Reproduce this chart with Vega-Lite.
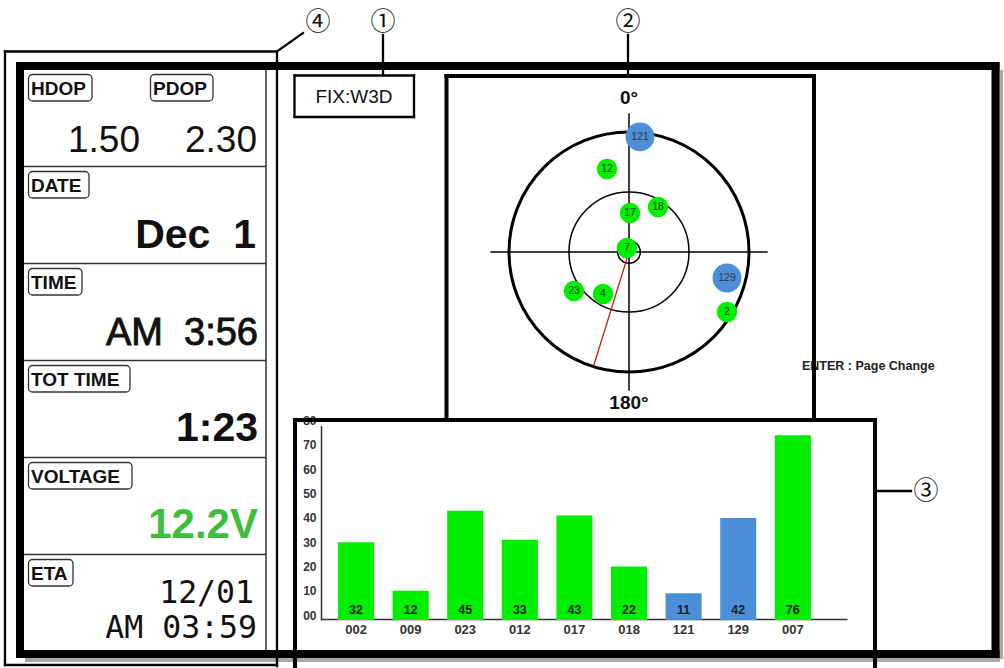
{
  "$schema": "https://vega.github.io/schema/vega-lite/v6.json",
  "width": 1004,
  "height": 668,
  "autosize": {"type": "fit", "contains": "padding"},
  "padding": 0,
  "background": "white",
  "config": {"view": {"stroke": null}, "font": "Liberation Sans"},
  "datasets": {
    "bars": [
      {"prn": "002", "snr": 32, "system": "GPS"},
      {"prn": "009", "snr": 12, "system": "GPS"},
      {"prn": "023", "snr": 45, "system": "GPS"},
      {"prn": "012", "snr": 33, "system": "GPS"},
      {"prn": "017", "snr": 43, "system": "GPS"},
      {"prn": "018", "snr": 22, "system": "GPS"},
      {"prn": "121", "snr": 11, "system": "SBAS"},
      {"prn": "129", "snr": 42, "system": "SBAS"},
      {"prn": "007", "snr": 76, "system": "GPS"}
    ],
    "rings": [
      {"ring": "horizon", "zenith": 90, "east": 0, "north": 0},
      {"ring": "45", "zenith": 45, "east": 0, "north": 0},
      {"ring": "center", "zenith": 8.5, "east": 0, "north": 0}
    ],
    "cross": [
      {"e1": -104, "n1": 0, "e2": 104, "n2": 0},
      {"e1": 0, "n1": 104, "e2": 0, "n2": -104}
    ],
    "heading": [{"e1": 0, "n1": 0, "e2": -26.3, "n2": -84.8}],
    "sats": [
      {"prn": "121", "system": "SBAS", "east": 8.25, "north": 86.3},
      {"prn": "12", "system": "GPS", "east": -16.5, "north": 62.3},
      {"prn": "17", "system": "GPS", "east": 0.75, "north": 29.3},
      {"prn": "18", "system": "GPS", "east": 21.75, "north": 33.75},
      {"prn": "7", "system": "GPS", "east": -1.5, "north": 3},
      {"prn": "23", "system": "GPS", "east": -41.25, "north": -29.25},
      {"prn": "4", "system": "GPS", "east": -19.5, "north": -31.5},
      {"prn": "129", "system": "SBAS", "east": 73.5, "north": -19.5},
      {"prn": "2", "system": "GPS", "east": 73.5, "north": -45}
    ],
    "skylabels": [
      {"text": "0°", "east": 0, "north": 115.5},
      {"text": "180°", "east": 0, "north": -113.3}
    ],
    "segs": [
      {"kind": "shadow", "x1": 1000.5, "y1": 70, "x2": 1000.5, "y2": 659},
      {"kind": "shadow", "x1": 25, "y1": 659.5, "x2": 1000, "y2": 659.5},
      {"kind": "frame", "x1": 20, "y1": 66, "x2": 995.5, "y2": 66},
      {"kind": "frame", "x1": 20, "y1": 654, "x2": 995.5, "y2": 654},
      {"kind": "frame", "x1": 20, "y1": 66, "x2": 20, "y2": 654},
      {"kind": "frame", "x1": 995.5, "y1": 66, "x2": 995.5, "y2": 654},
      {"kind": "box", "x1": 446.5, "y1": 76, "x2": 814, "y2": 76},
      {"kind": "box", "x1": 446.5, "y1": 76, "x2": 446.5, "y2": 419},
      {"kind": "box", "x1": 814, "y1": 76, "x2": 814, "y2": 419},
      {"kind": "box", "x1": 295, "y1": 420, "x2": 875, "y2": 420},
      {"kind": "box", "x1": 295, "y1": 420, "x2": 295, "y2": 666},
      {"kind": "box", "x1": 875, "y1": 420, "x2": 875, "y2": 666},
      {"kind": "thin", "x1": 5, "y1": 51.5, "x2": 277, "y2": 51.5},
      {"kind": "thin", "x1": 5, "y1": 51.5, "x2": 5, "y2": 665},
      {"kind": "thin", "x1": 5, "y1": 665, "x2": 277, "y2": 665},
      {"kind": "thin", "x1": 277, "y1": 51.5, "x2": 277, "y2": 666},
      {"kind": "thin", "x1": 294.5, "y1": 75.5, "x2": 414, "y2": 75.5},
      {"kind": "thin", "x1": 294.5, "y1": 117, "x2": 414, "y2": 117},
      {"kind": "thin", "x1": 294.5, "y1": 75.5, "x2": 294.5, "y2": 117},
      {"kind": "thin", "x1": 414, "y1": 75.5, "x2": 414, "y2": 117},
      {"kind": "thin", "x1": 383, "y1": 35, "x2": 383, "y2": 75},
      {"kind": "thin", "x1": 628, "y1": 35, "x2": 628, "y2": 74},
      {"kind": "thin", "x1": 277, "y1": 51.5, "x2": 303, "y2": 33},
      {"kind": "thin", "x1": 875, "y1": 491, "x2": 911, "y2": 491},
      {"kind": "hair", "x1": 266, "y1": 70, "x2": 266, "y2": 650},
      {"kind": "hair", "x1": 24, "y1": 166.5, "x2": 266, "y2": 166.5},
      {"kind": "hair", "x1": 24, "y1": 263.5, "x2": 266, "y2": 263.5},
      {"kind": "hair", "x1": 24, "y1": 360.5, "x2": 266, "y2": 360.5},
      {"kind": "hair", "x1": 24, "y1": 457.5, "x2": 266, "y2": 457.5},
      {"kind": "hair", "x1": 24, "y1": 554.5, "x2": 266, "y2": 554.5}
    ],
    "labels": [
      {"label": "HDOP", "x1": 28.5, "x2": 92, "y1": 74.5, "y2": 101},
      {"label": "PDOP", "x1": 150.5, "x2": 213, "y1": 74.5, "y2": 101},
      {"label": "DATE", "x1": 28.5, "x2": 89, "y1": 171.5, "y2": 198},
      {"label": "TIME", "x1": 28.5, "x2": 82, "y1": 268.5, "y2": 295},
      {"label": "TOT TIME", "x1": 28.5, "x2": 130, "y1": 365.5, "y2": 392},
      {"label": "VOLTAGE", "x1": 28.5, "x2": 132, "y1": 462.5, "y2": 489},
      {"label": "ETA", "x1": 28.5, "x2": 73, "y1": 559.5, "y2": 586}
    ],
    "values": [
      {"text": "1.50", "x": 140, "y": 152, "style": "reg"},
      {"text": "2.30", "x": 257, "y": 152, "style": "reg"},
      {"text": "Dec\u00a0\u00a01", "x": 256, "y": 248, "style": "bold"},
      {"text": "AM\u00a0\u00a03:56", "x": 258, "y": 345, "style": "semi"},
      {"text": "1:23", "x": 258, "y": 441, "style": "bold"},
      {"text": "12.2V", "x": 258, "y": 538, "style": "volt"},
      {"text": "12/01", "x": 254, "y": 603, "style": "mono"},
      {"text": "AM 03:59", "x": 257, "y": 638, "style": "mono"}
    ],
    "notes": [
      {"text": "FIX:W3D", "x": 354, "y": 97, "style": "fix"},
      {"text": "ENTER : Page Change", "x": 802, "y": 366, "style": "enter"},
      {"text": "①", "x": 383, "y": 22, "style": "circ"},
      {"text": "②", "x": 628, "y": 22, "style": "circ"},
      {"text": "③", "x": 926, "y": 491, "style": "circ"},
      {"text": "④", "x": 318, "y": 22, "style": "circ"}
    ]
  },
  "layer": [
    {
      "layer": [
        {
          "data": {"name": "rings"},
          "transform": [{"filter": "datum.ring == 'horizon'"}],
          "mark": {"type": "point", "shape": "circle", "filled": false, "color": "black", "strokeWidth": 3, "opacity": 1},
          "encoding": {
            "x": {"field": "east", "type": "quantitative", "scale": {"domain": [-90, 90], "range": [509, 749], "nice": false, "zero": false}, "axis": null},
            "y": {"field": "north", "type": "quantitative", "scale": {"domain": [-90, 90], "range": [372, 132], "nice": false, "zero": false}, "axis": null},
            "size": {"field": "zenith", "type": "quantitative", "scale": {"type": "pow", "exponent": 2, "domain": [0, 90], "range": [0, 57600]}, "legend": null}
          }
        },
        {
          "data": {"name": "rings"},
          "transform": [{"filter": "datum.ring != 'horizon'"}],
          "mark": {"type": "point", "shape": "circle", "filled": false, "color": "black", "strokeWidth": 1.5, "opacity": 1},
          "encoding": {
            "x": {"field": "east", "type": "quantitative", "axis": null},
            "y": {"field": "north", "type": "quantitative", "axis": null},
            "size": {"field": "zenith", "type": "quantitative", "legend": null}
          }
        },
        {
          "data": {"name": "cross"},
          "mark": {"type": "rule", "color": "black", "strokeWidth": 1.5},
          "encoding": {
            "x": {"field": "e1", "type": "quantitative", "axis": null},
            "y": {"field": "n1", "type": "quantitative", "axis": null},
            "x2": {"field": "e2"},
            "y2": {"field": "n2"}
          }
        },
        {
          "data": {"name": "heading"},
          "mark": {"type": "rule", "color": "#d01818", "strokeWidth": 1.3},
          "encoding": {
            "x": {"field": "e1", "type": "quantitative", "axis": null},
            "y": {"field": "n1", "type": "quantitative", "axis": null},
            "x2": {"field": "e2"},
            "y2": {"field": "n2"}
          }
        },
        {
          "data": {"name": "sats"},
          "transform": [{"filter": "datum.system == 'GPS'"}],
          "mark": {"type": "point", "shape": "circle", "filled": true, "opacity": 1, "size": 420},
          "encoding": {
            "x": {"field": "east", "type": "quantitative", "axis": null},
            "y": {"field": "north", "type": "quantitative", "axis": null},
            "color": {"field": "system", "type": "nominal", "scale": {"domain": ["GPS", "SBAS"], "range": ["#00ee00", "#4a8fd8"]}, "legend": null}
          }
        },
        {
          "data": {"name": "sats"},
          "transform": [{"filter": "datum.system == 'SBAS'"}],
          "mark": {"type": "point", "shape": "circle", "filled": true, "opacity": 1, "size": 830},
          "encoding": {
            "x": {"field": "east", "type": "quantitative", "axis": null},
            "y": {"field": "north", "type": "quantitative", "axis": null},
            "color": {"field": "system", "type": "nominal", "legend": null}
          }
        },
        {
          "data": {"name": "sats"},
          "mark": {"type": "text", "fontSize": 10.5, "color": "#3a3a3a", "align": "center", "baseline": "middle"},
          "encoding": {
            "x": {"field": "east", "type": "quantitative", "axis": null},
            "y": {"field": "north", "type": "quantitative", "axis": null},
            "text": {"field": "prn"}
          }
        },
        {
          "data": {"name": "skylabels"},
          "mark": {"type": "text", "fontSize": 19, "fontWeight": "bold", "color": "#111", "align": "center", "baseline": "middle"},
          "encoding": {
            "x": {"field": "east", "type": "quantitative", "axis": null},
            "y": {"field": "north", "type": "quantitative", "axis": null},
            "text": {"field": "text"}
          }
        }
      ]
    },
    {
      "data": {"name": "bars"},
      "layer": [
        {
          "mark": {"type": "bar"},
          "encoding": {
            "x": {
              "field": "prn", "type": "nominal", "sort": null,
              "scale": {"range": [321, 847], "paddingInner": 0.34, "paddingOuter": 0.487, "align": 0.32},
              "axis": {"orient": "bottom", "offset": -48, "title": null, "ticks": false, "labelAngle": 0, "domainColor": "#333", "domainWidth": 1.5, "labelFontWeight": "bold", "labelFontSize": 13, "labelColor": "#333", "labelPadding": 4, "grid": false}
            },
            "y": {
              "field": "snr", "type": "quantitative",
              "scale": {"domain": [0, 80], "range": [620, 425.6], "nice": false, "zero": true},
              "axis": {"orient": "left", "offset": -321, "title": null, "ticks": false, "values": [0, 10, 20, 30, 40, 50, 60, 70, 80], "domainColor": "#333", "domainWidth": 1.5, "labelExpr": "datum.value < 10 ? '0' + datum.value : '' + datum.value", "labelFontWeight": "bold", "labelFontSize": 12, "labelColor": "#333", "labelPadding": 5, "labelOffset": -5, "grid": false}
            },
            "color": {"field": "system", "type": "nominal", "scale": {"domain": ["GPS", "SBAS"], "range": ["#00ee00", "#4a8fd8"]}, "legend": null}
          }
        },
        {
          "mark": {"type": "text", "fontWeight": "bold", "fontSize": 12.5, "color": "#1f1f1f", "baseline": "middle", "dy": -10},
          "encoding": {
            "x": {"field": "prn", "type": "nominal", "sort": null},
            "y": {"datum": 0},
            "text": {"field": "snr"}
          }
        }
      ]
    },
    {
      "layer": [
        {
          "data": {"name": "notes"},
          "transform": [{"filter": "datum.style == 'enter'"}],
          "mark": {"type": "text", "fontSize": 12.5, "fontWeight": "bold", "color": "#222", "align": "left", "baseline": "middle"},
          "encoding": {
            "x": {"field": "x", "type": "quantitative", "scale": {"domain": [0, 1004], "range": [0, 1004], "nice": false, "zero": false}, "axis": null},
            "y": {"field": "y", "type": "quantitative", "scale": {"domain": [0, 668], "range": [0, 668], "nice": false, "zero": false}, "axis": null},
            "text": {"field": "text"}
          }
        },
        {
          "data": {"name": "notes"},
          "transform": [{"filter": "datum.style == 'fix'"}],
          "mark": {"type": "text", "fontSize": 19, "color": "#111", "align": "center", "baseline": "middle"},
          "encoding": {
            "x": {"field": "x", "type": "quantitative", "axis": null},
            "y": {"field": "y", "type": "quantitative", "axis": null},
            "text": {"field": "text"}
          }
        },
        {
          "data": {"name": "notes"},
          "transform": [{"filter": "datum.style == 'circ'"}],
          "mark": {"type": "text", "fontSize": 25, "font": "Noto Sans CJK JP", "color": "#111", "align": "center", "baseline": "middle"},
          "encoding": {
            "x": {"field": "x", "type": "quantitative", "axis": null},
            "y": {"field": "y", "type": "quantitative", "axis": null},
            "text": {"field": "text"}
          }
        },
        {
          "data": {"name": "labels"},
          "mark": {"type": "rect", "filled": false, "color": "#333", "strokeWidth": 1.3, "cornerRadius": 4},
          "encoding": {
            "x": {"field": "x1", "type": "quantitative", "axis": null},
            "x2": {"field": "x2"},
            "y": {"field": "y1", "type": "quantitative", "axis": null},
            "y2": {"field": "y2"}
          }
        },
        {
          "data": {"name": "labels"},
          "mark": {"type": "text", "fontSize": 19, "fontWeight": "bold", "color": "#111", "align": "left", "baseline": "alphabetic", "dx": 2.5, "dy": -6},
          "encoding": {
            "x": {"field": "x1", "type": "quantitative", "axis": null},
            "y": {"field": "y2", "type": "quantitative", "axis": null},
            "text": {"field": "label"}
          }
        },
        {
          "data": {"name": "values"},
          "transform": [{"filter": "datum.style == 'reg'"}],
          "mark": {"type": "text", "fontSize": 37, "color": "#111", "align": "right", "baseline": "alphabetic"},
          "encoding": {
            "x": {"field": "x", "type": "quantitative", "axis": null},
            "y": {"field": "y", "type": "quantitative", "axis": null},
            "text": {"field": "text"}
          }
        },
        {
          "data": {"name": "values"},
          "transform": [{"filter": "datum.style == 'semi'"}],
          "mark": {"type": "text", "fontSize": 38, "color": "#111", "stroke": "#111", "strokeWidth": 0.9, "align": "right", "baseline": "alphabetic"},
          "encoding": {
            "x": {"field": "x", "type": "quantitative", "axis": null},
            "y": {"field": "y", "type": "quantitative", "axis": null},
            "text": {"field": "text"}
          }
        },
        {
          "data": {"name": "values"},
          "transform": [{"filter": "datum.style == 'bold'"}],
          "mark": {"type": "text", "fontSize": 41, "fontWeight": "bold", "color": "#111", "align": "right", "baseline": "alphabetic"},
          "encoding": {
            "x": {"field": "x", "type": "quantitative", "axis": null},
            "y": {"field": "y", "type": "quantitative", "axis": null},
            "text": {"field": "text"}
          }
        },
        {
          "data": {"name": "values"},
          "transform": [{"filter": "datum.style == 'volt'"}],
          "mark": {"type": "text", "fontSize": 42, "fontWeight": "bold", "color": "#3dbf3d", "align": "right", "baseline": "alphabetic"},
          "encoding": {
            "x": {"field": "x", "type": "quantitative", "axis": null},
            "y": {"field": "y", "type": "quantitative", "axis": null},
            "text": {"field": "text"}
          }
        },
        {
          "data": {"name": "values"},
          "transform": [{"filter": "datum.style == 'mono'"}],
          "mark": {"type": "text", "fontSize": 31.5, "font": "DejaVu Sans Mono", "color": "#111", "align": "right", "baseline": "alphabetic"},
          "encoding": {
            "x": {"field": "x", "type": "quantitative", "axis": null},
            "y": {"field": "y", "type": "quantitative", "axis": null},
            "text": {"field": "text"}
          }
        },
        {
          "data": {"name": "segs"},
          "transform": [{"filter": "datum.kind == 'shadow'"}],
          "mark": {"type": "rule", "color": "#9a9a9a", "strokeWidth": 5, "opacity": 0.85},
          "encoding": {
            "x": {"field": "x1", "type": "quantitative", "axis": null},
            "y": {"field": "y1", "type": "quantitative", "axis": null},
            "x2": {"field": "x2"},
            "y2": {"field": "y2"}
          }
        },
        {
          "data": {"name": "segs"},
          "transform": [{"filter": "datum.kind == 'hair'"}],
          "mark": {"type": "rule", "color": "#333", "strokeWidth": 1.5},
          "encoding": {
            "x": {"field": "x1", "type": "quantitative", "axis": null},
            "y": {"field": "y1", "type": "quantitative", "axis": null},
            "x2": {"field": "x2"},
            "y2": {"field": "y2"}
          }
        },
        {
          "data": {"name": "segs"},
          "transform": [{"filter": "datum.kind == 'thin'"}],
          "mark": {"type": "rule", "color": "black", "strokeWidth": 2.3, "strokeCap": "square"},
          "encoding": {
            "x": {"field": "x1", "type": "quantitative", "axis": null},
            "y": {"field": "y1", "type": "quantitative", "axis": null},
            "x2": {"field": "x2"},
            "y2": {"field": "y2"}
          }
        },
        {
          "data": {"name": "segs"},
          "transform": [{"filter": "datum.kind == 'box'"}],
          "mark": {"type": "rule", "color": "black", "strokeWidth": 4, "strokeCap": "square"},
          "encoding": {
            "x": {"field": "x1", "type": "quantitative", "axis": null},
            "y": {"field": "y1", "type": "quantitative", "axis": null},
            "x2": {"field": "x2"},
            "y2": {"field": "y2"}
          }
        },
        {
          "data": {"name": "segs"},
          "transform": [{"filter": "datum.kind == 'frame'"}],
          "mark": {"type": "rule", "color": "black", "strokeWidth": 8, "strokeCap": "square"},
          "encoding": {
            "x": {"field": "x1", "type": "quantitative", "axis": null},
            "y": {"field": "y1", "type": "quantitative", "axis": null},
            "x2": {"field": "x2"},
            "y2": {"field": "y2"}
          }
        }
      ]
    }
  ],
  "resolve": {"scale": {"x": "independent", "y": "independent"}}
}
